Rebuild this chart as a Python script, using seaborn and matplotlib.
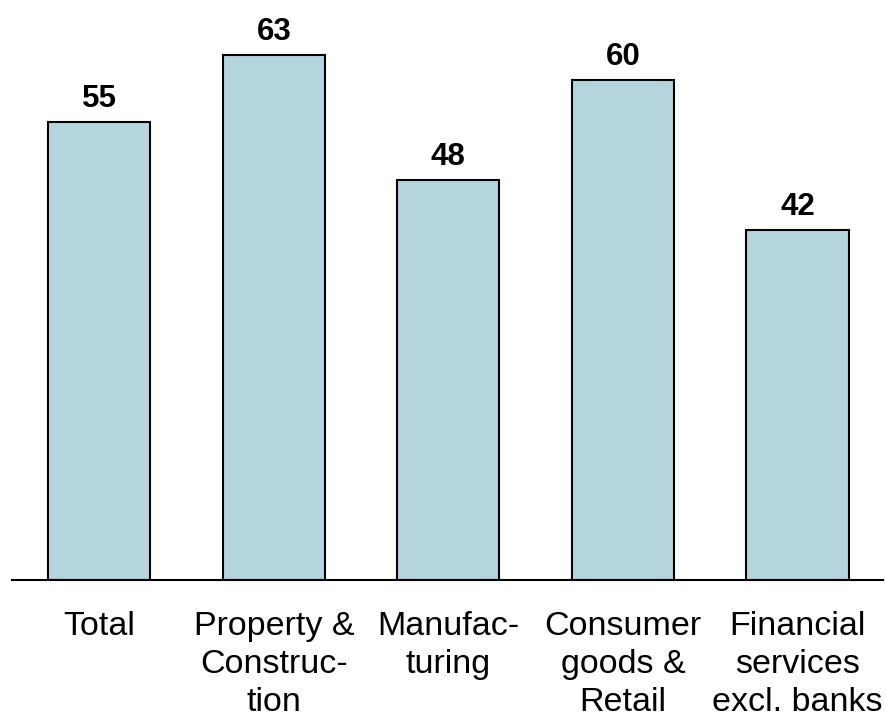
import matplotlib
matplotlib.use("Agg")
import matplotlib.pyplot as plt
import seaborn as sns
import pandas as pd

categories = ["Total", "Property &\nConstruc-\ntion", "Manufac-\nturing",
              "Consumer\ngoods &\nRetail", "Financial\nservices\nexcl. banks"]
values = [55, 63, 48, 60, 42]

sns.set_style("white")
plt.rcParams["font.family"] = ["Liberation Sans", "DejaVu Sans"]

df = pd.DataFrame({"sector": categories, "share": values})

fig = plt.figure(figsize=(8.85, 7.23), dpi=100)
ax = fig.add_axes([12 / 885, 1 - 580 / 723, 871 / 885, 580 / 723])

sns.barplot(data=df, x="sector", y="share", color="#b4d4de", saturation=1,
            width=0.585, edgecolor="black", linewidth=1.5, ax=ax)

for i, v in enumerate(values):
    ax.text(i, v + 1.75, f"{v}", ha="center", va="baseline",
            fontsize=22.5, fontweight="bold", color="black")

ax.set_xlim(-0.50, 4.49)
ax.set_ylim(0, 69.6)
ax.set_xlabel("")
ax.set_ylabel("")
ax.set_yticks([])
for side in ["top", "left", "right"]:
    ax.spines[side].set_visible(False)
ax.spines["bottom"].set_linewidth(1.5)
ax.spines["bottom"].set_color("black")
ax.tick_params(axis="x", length=0, pad=22, labelsize=24.5, labelcolor="black")
for lbl in ax.get_xticklabels():
    lbl.set_linespacing(1.3)
    lbl.set_verticalalignment("top")

fig.savefig("out.png", dpi=100, facecolor="white")
